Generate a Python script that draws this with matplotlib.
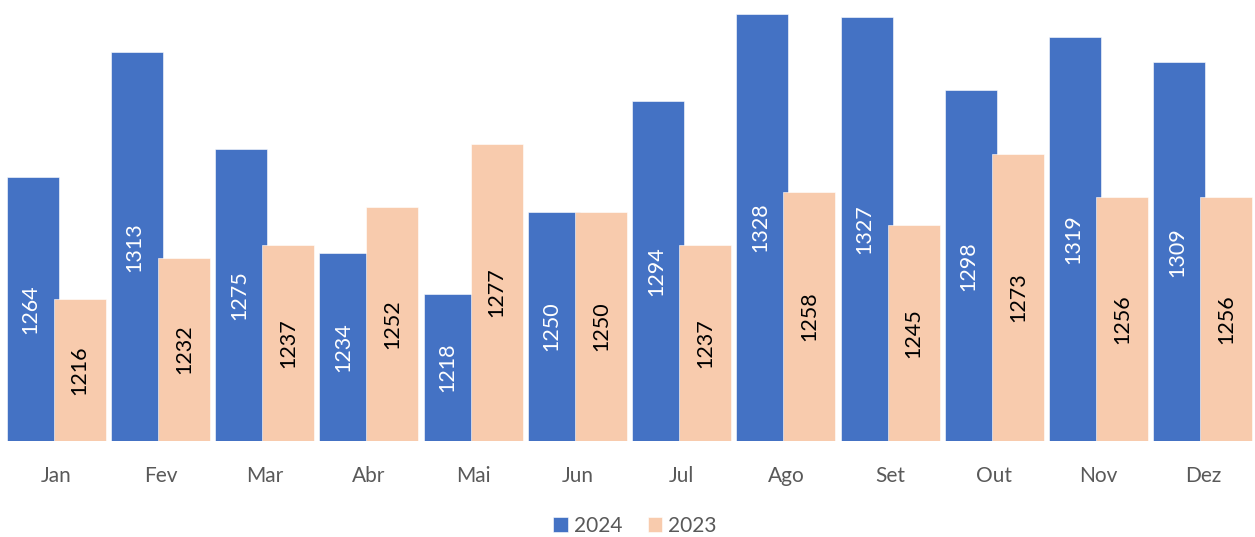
import matplotlib
matplotlib.use("Agg")
import matplotlib.pyplot as plt
import numpy as np

months = ["Jan", "Fev", "Mar", "Abr", "Mai", "Jun", "Jul", "Ago", "Set", "Out", "Nov", "Dez"]
values_2024 = [1264, 1313, 1275, 1234, 1218, 1250, 1294, 1328, 1327, 1298, 1319, 1309]
values_2023 = [1216, 1232, 1237, 1252, 1277, 1250, 1237, 1258, 1245, 1273, 1256, 1256]
series_names = ["2024", "2023"]

plt.rcParams['font.family'] = ['Lato', 'DejaVu Sans']

W, H = 1255, 537
fig = plt.figure(figsize=(W / 100, H / 100), dpi=100)
ax = fig.add_axes([4 / W, 96 / H, (1255 - 4) / W, (441 - 6.6) / H])

blue = "#4472C4"
peach = "#F8CBAD"
x = np.arange(len(months))
off = 0.2255
bw = 0.5
ymin = 1160

b1 = ax.bar(x - off, np.array(values_2024) - ymin, bw, bottom=ymin, color=blue,
            edgecolor="white", linewidth=0.4, zorder=2, label=series_names[0])
b2 = ax.bar(x + off, np.array(values_2023) - ymin, bw, bottom=ymin, color=peach,
            edgecolor="white", linewidth=0.4, zorder=3, label=series_names[1])

for i in range(len(months)):
    ax.text(x[i] - off - 0.02, (ymin + values_2024[i]) / 2, str(values_2024[i]),
            rotation=90, ha="center", va="center", color="white", fontsize=15.5, zorder=5)
    ax.text(x[i] + off, (ymin + values_2023[i]) / 2, str(values_2023[i]),
            rotation=90, ha="center", va="center", color="black", fontsize=15.5, zorder=5)

ax.set_xlim(-0.5, len(months) - 0.5)
ax.set_ylim(ymin, 1331)
ax.set_xticks(x)
ax.set_xticklabels(months, fontsize=15, color="#595959")
ax.tick_params(axis="x", length=0, pad=18)
ax.set_yticks([])
for s in ax.spines.values():
    s.set_visible(False)

fig.legend(handles=[b1, b2], labels=series_names, loc="center",
           bbox_to_anchor=(0.506, 1 - 526 / H), ncol=2, frameon=False,
           handlelength=0.7, handleheight=0.7, handletextpad=0.3, columnspacing=1.2,
           prop={"size": 15}, labelcolor="#595959")

fig.savefig("out.png", dpi=100)
